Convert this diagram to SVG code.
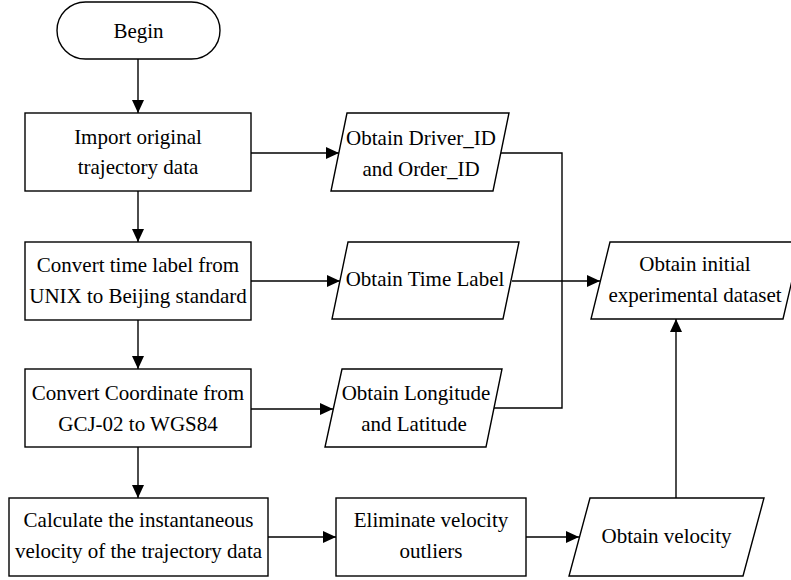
<svg xmlns="http://www.w3.org/2000/svg" width="791" height="580" viewBox="0 0 791 580">
  <style>
    .shape { fill: #ffffff; stroke: #000000; stroke-width: 1.4; }
    .conn { fill: none; stroke: #000000; stroke-width: 1.4; }
    .label { font-family: "Liberation Serif", "Times New Roman", Times, Tinos, "Noto Serif", "DejaVu Serif", serif; font-size: 21px; fill: #000000; text-anchor: middle; }
  </style>
  <defs>
    <marker id="arrow" markerUnits="userSpaceOnUse" markerWidth="13" markerHeight="12" refX="13" refY="6" orient="auto">
      <path d="M0,0 L13,6 L0,12 z" fill="#000000"/>
    </marker>
  </defs>

  <rect width="791" height="580" fill="#ffffff"/>

  <!-- connectors -->
  <g id="connectors">
    <path class="conn" d="M138,59 V113" marker-end="url(#arrow)"/>
    <path class="conn" d="M138,191 V242" marker-end="url(#arrow)"/>
    <path class="conn" d="M138,320 V369" marker-end="url(#arrow)"/>
    <path class="conn" d="M138,447 V498" marker-end="url(#arrow)"/>
    <path class="conn" d="M251,153 H339" marker-end="url(#arrow)"/>
    <path class="conn" d="M251,281 H340" marker-end="url(#arrow)"/>
    <path class="conn" d="M251,409 H333" marker-end="url(#arrow)"/>
    <path class="conn" d="M501,153 H562 V408 H494"/>
    <path class="conn" d="M512,281 H600" marker-end="url(#arrow)"/>
    <path class="conn" d="M268,537 H336" marker-end="url(#arrow)"/>
    <path class="conn" d="M526,537 H579" marker-end="url(#arrow)"/>
    <path class="conn" d="M676,498 V319" marker-end="url(#arrow)"/>
  </g>

  <!-- start terminator -->
  <g id="begin">
    <rect class="shape" x="57" y="2" width="163" height="57" rx="28.5" ry="28.5"/>
    <text class="label" x="138.5" y="38">Begin</text>
  </g>

  <!-- process steps -->
  <g id="import">
    <rect class="shape" x="25" y="113" width="226" height="78"/>
    <text class="label" x="138" y="144">Import original</text>
    <text class="label" x="138" y="174">trajectory data</text>
  </g>

  <g id="convert-time">
    <rect class="shape" x="25" y="242" width="226" height="78"/>
    <text class="label" x="138" y="272">Convert time label from</text>
    <text class="label" x="138" y="303">UNIX to Beijing standard</text>
  </g>

  <g id="convert-coord">
    <rect class="shape" x="25" y="369" width="226" height="78"/>
    <text class="label" x="138" y="400">Convert Coordinate from</text>
    <text class="label" x="138" y="431">GCJ-02 to WGS84</text>
  </g>

  <g id="calc-velocity">
    <rect class="shape" x="9" y="498" width="259" height="78"/>
    <text class="label" x="138.5" y="527">Calculate the instantaneous</text>
    <text class="label" x="138.5" y="558">velocity of the trajectory data</text>
  </g>

  <g id="eliminate">
    <rect class="shape" x="336" y="498" width="190" height="78"/>
    <text class="label" x="431" y="527">Eliminate velocity</text>
    <text class="label" x="431" y="558">outliers</text>
  </g>

  <!-- data outputs -->
  <g id="driver-order">
    <polygon class="shape" points="347,113 509,113 493,191 331,191"/>
    <text class="label" x="421" y="145">Obtain Driver_ID</text>
    <text class="label" x="421" y="176">and Order_ID</text>
  </g>

  <g id="time-label">
    <polygon class="shape" points="348,242 519,242 503,319 332,319"/>
    <text class="label" x="425" y="286">Obtain Time Label</text>
  </g>

  <g id="lon-lat">
    <polygon class="shape" points="342,369 502,369 486,447 325,447"/>
    <text class="label" x="416" y="400">Obtain Longitude</text>
    <text class="label" x="414" y="431">and Latitude</text>
  </g>

  <g id="dataset">
    <polygon class="shape" points="610,242 801,242 783,319 591,319"/>
    <text class="label" x="695" y="271">Obtain initial</text>
    <text class="label" x="695" y="302">experimental dataset</text>
  </g>

  <g id="velocity">
    <polygon class="shape" points="590,498 764,498 743,576 569,576"/>
    <text class="label" x="666.5" y="543">Obtain velocity</text>
  </g>
</svg>
